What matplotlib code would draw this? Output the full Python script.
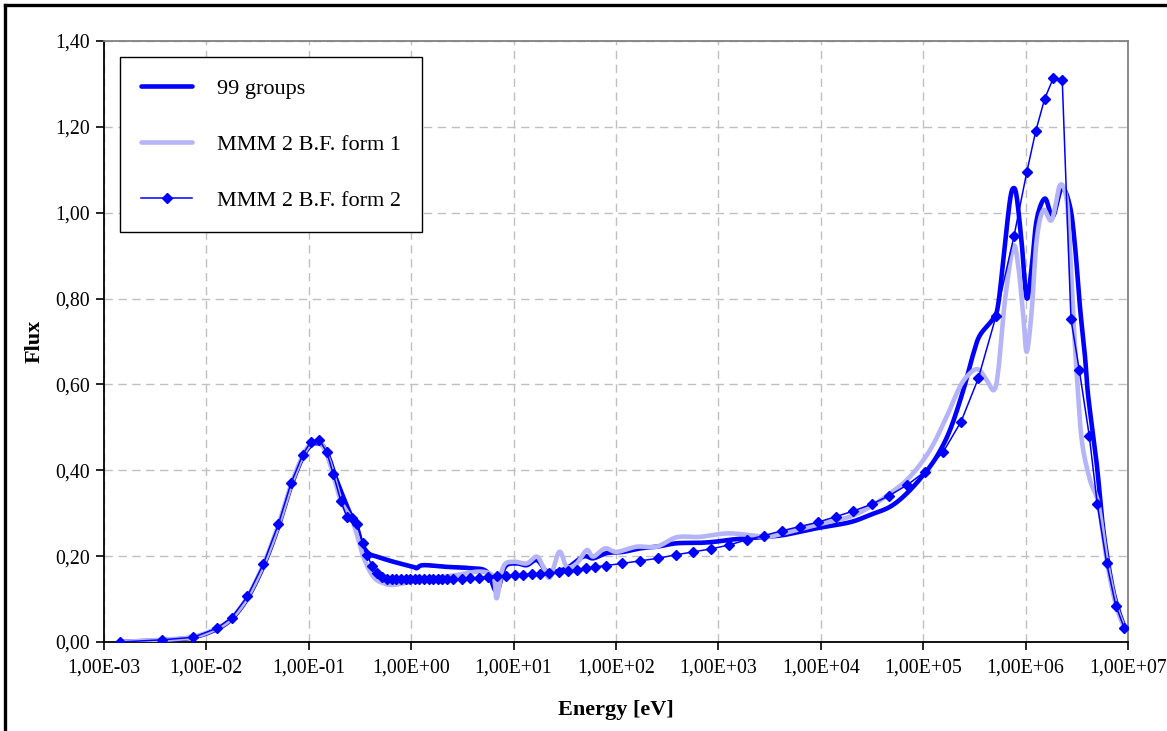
import numpy as np
import matplotlib
matplotlib.use('Agg')
import matplotlib.pyplot as plt
from matplotlib.ticker import FuncFormatter, FixedLocator

# ===== dados (log10 da energia em eV, fluxo) =====
log_e_99 = [-2.844, -2.434, -2.128, -1.899, -1.753, -1.601, -1.444, -1.298, -1.174, -1.060,
            -0.980, -0.920, -0.860, -0.800, -0.728, -0.598, -0.532, -0.483, -0.419, -0.337,
            -0.175, 0.020, 0.054, 0.118, 0.347, 0.574, 0.737, 0.835, 0.916, 1.030,
            1.128, 1.226, 1.307, 1.355, 1.519, 1.681, 1.778, 1.909, 2.071, 2.234,
            2.397, 2.593, 2.820, 2.983, 3.146, 3.309, 3.472, 3.634, 3.797, 3.960,
            4.285, 4.480, 4.676, 4.839, 5.001, 5.132, 5.262, 5.392, 5.490, 5.555,
            5.685, 5.734, 5.799, 5.848, 5.880, 5.913, 5.962, 6.011, 6.060, 6.108,
            6.189, 6.265, 6.353, 6.434, 6.483, 6.531, 6.580, 6.612, 6.694, 6.759,
            6.841, 6.906, 6.971]
flux_99 = [0.000, 0.004, 0.011, 0.030, 0.054, 0.101, 0.176, 0.268, 0.362, 0.430,
           0.458, 0.463, 0.456, 0.428, 0.377, 0.300, 0.269, 0.230, 0.207, 0.199,
           0.187, 0.175, 0.172, 0.179, 0.175, 0.172, 0.164, 0.118, 0.175, 0.183,
           0.179, 0.191, 0.168, 0.162, 0.172, 0.199, 0.195, 0.207, 0.210, 0.218,
           0.222, 0.230, 0.231, 0.234, 0.239, 0.242, 0.245, 0.249, 0.257, 0.265,
           0.279, 0.296, 0.315, 0.346, 0.389, 0.432, 0.494, 0.587, 0.672, 0.715,
           0.754, 0.789, 0.929, 1.030, 1.057, 1.037, 0.929, 0.801, 0.874, 0.983,
           1.033, 0.991, 1.057, 1.014, 0.921, 0.780, 0.665, 0.571, 0.416, 0.261,
           0.137, 0.075, 0.032]

log_e_f1 = [-2.844, -2.434, -2.128, -1.899, -1.753, -1.601, -1.444, -1.298, -1.174, -1.060,
            -0.980, -0.920, -0.860, -0.800, -0.740, -0.680, -0.565, -0.468, -0.370, -0.272,
            -0.175, 0.020, 0.216, 0.444, 0.672, 0.802, 0.835, 0.899, 0.997, 1.128,
            1.226, 1.290, 1.355, 1.446, 1.519, 1.616, 1.714, 1.778, 1.893, 2.007,
            2.202, 2.397, 2.593, 2.820, 3.081, 3.309, 3.472, 3.634, 3.960, 4.285,
            4.480, 4.676, 4.871, 5.066, 5.229, 5.359, 5.457, 5.538, 5.620, 5.691,
            5.734, 5.799, 5.880, 5.929, 5.978, 6.011, 6.060, 6.108, 6.173, 6.255,
            6.336, 6.401, 6.434, 6.466, 6.499, 6.548, 6.629, 6.710, 6.792, 6.880,
            6.964]
flux_f1 = [0.000, 0.005, 0.012, 0.032, 0.056, 0.104, 0.180, 0.272, 0.366, 0.434,
           0.462, 0.466, 0.455, 0.420, 0.372, 0.325, 0.276, 0.199, 0.152, 0.137,
           0.133, 0.141, 0.148, 0.156, 0.164, 0.152, 0.102, 0.175, 0.187, 0.183,
           0.199, 0.175, 0.150, 0.210, 0.175, 0.183, 0.214, 0.199, 0.218, 0.210,
           0.222, 0.222, 0.244, 0.245, 0.253, 0.249, 0.245, 0.253, 0.273, 0.292,
           0.315, 0.346, 0.385, 0.447, 0.525, 0.595, 0.626, 0.635, 0.610, 0.587,
           0.634, 0.797, 0.921, 0.874, 0.758, 0.676, 0.773, 0.936, 1.006, 0.983,
           1.064, 1.030, 0.913, 0.758, 0.626, 0.471, 0.377, 0.323, 0.190, 0.088,
           0.032]

log_e_f2 = [-2.844, -2.434, -2.128, -1.899, -1.753, -1.601, -1.444, -1.298, -1.174, -1.060,
            -0.979, -0.897, -0.825, -0.761, -0.688, -0.630, -0.581, -0.526, -0.474, -0.429,
            -0.386, -0.337, -0.288, -0.239, -0.190, -0.145, -0.100, -0.055, -0.010, 0.035,
            0.080, 0.125, 0.170, 0.215, 0.260, 0.305, 0.350, 0.411, 0.493, 0.574,
            0.665, 0.753, 0.841, 0.926, 1.014, 1.095, 1.177, 1.258, 1.349, 1.446,
            1.534, 1.616, 1.707, 1.795, 1.899, 2.061, 2.234, 2.410, 2.583, 2.755,
            2.931, 3.104, 3.276, 3.448, 3.618, 3.797, 3.970, 4.146, 4.317, 4.497,
            4.669, 4.845, 5.018, 5.196, 5.369, 5.538, 5.711, 5.887, 6.011, 6.099,
            6.187, 6.270, 6.358, 6.443, 6.524, 6.622, 6.700, 6.792, 6.880, 6.964]
flux_f2 = [0.000, 0.005, 0.011, 0.032, 0.057, 0.106, 0.182, 0.274, 0.370, 0.436,
           0.467, 0.470, 0.443, 0.391, 0.329, 0.292, 0.290, 0.274, 0.231, 0.203,
           0.178, 0.161, 0.152, 0.146, 0.146, 0.146, 0.146, 0.146, 0.146, 0.146,
           0.146, 0.147, 0.147, 0.147, 0.147, 0.147, 0.147, 0.147, 0.147, 0.148,
           0.150, 0.152, 0.154, 0.154, 0.155, 0.157, 0.158, 0.159, 0.161, 0.163,
           0.165, 0.168, 0.172, 0.175, 0.178, 0.183, 0.189, 0.195, 0.203, 0.210,
           0.217, 0.226, 0.238, 0.248, 0.259, 0.269, 0.279, 0.292, 0.305, 0.321,
           0.341, 0.366, 0.397, 0.443, 0.513, 0.614, 0.759, 0.946, 1.094, 1.190,
           1.266, 1.313, 1.308, 0.752, 0.634, 0.480, 0.321, 0.183, 0.085, 0.032]

labels = ['99 groups', 'MMM 2 B.F. form 1', 'MMM 2 B.F. form 2']
x_ticks = [1e-3, 1e-2, 1e-1, 1e0, 1e1, 1e2, 1e3, 1e4, 1e5, 1e6, 1e7]
y_ticks = [0.0, 0.2, 0.4, 0.6, 0.8, 1.0, 1.2, 1.4]


def suaviza(lx, y, n=12):
    """Curva suavizada estilo Excel (Catmull-Rom -> Bezier) em log(x)."""
    p = np.column_stack([lx, y]).astype(float)
    p = np.vstack([p[0], p, p[-1]])
    t = np.linspace(0, 1, n, endpoint=False)
    out = []
    for i in range(1, len(p) - 2):
        p0, p1, p2, p3 = p[i - 1], p[i], p[i + 1], p[i + 2]
        c1 = p1 + (p2 - p0) / 6.0
        c2 = p2 - (p3 - p1) / 6.0
        tt = t[:, None]
        seg = ((1 - tt) ** 3) * p1 + 3 * ((1 - tt) ** 2) * tt * c1 \
            + 3 * (1 - tt) * tt ** 2 * c2 + tt ** 3 * p2
        out.append(seg)
    out.append(p[-2][None, :])
    out = np.vstack(out)
    return 10.0 ** out[:, 0], out[:, 1]


plt.rcParams['font.family'] = ['Liberation Serif', 'DejaVu Serif']

fig = plt.figure(figsize=(11.67, 7.31), dpi=100)
ax = fig.add_axes([104 / 1167, 89 / 731, 1024 / 1167, 601 / 731])

x99, y99 = suaviza(log_e_99, flux_99)
xf1, yf1 = suaviza(log_e_f1, flux_f1)
ef2 = 10.0 ** np.array(log_e_f2)

ax.plot(x99, y99, color='#0000ff', lw=3.3, label=labels[0], zorder=3,
        solid_joinstyle='round', solid_capstyle='round')
ax.plot(xf1, yf1, color='#b4b4f6', lw=3.3, label=labels[1], zorder=4,
        solid_joinstyle='round', solid_capstyle='round')
ax.plot(ef2, flux_f2, color='#0000ff', lw=1.1, marker='D', ms=5.5, mec='#0000ff',
        mfc='#0000ff', label=labels[2], zorder=5)

ax.set_xscale('log')
ax.set_xlim(1e-3, 1e7)
ax.set_ylim(0, 1.4)
ax.xaxis.set_major_locator(FixedLocator(x_ticks))
ax.xaxis.set_minor_locator(FixedLocator([]))
ax.set_yticks(y_ticks)


def fmt_x(v, pos):
    return ('%.2E' % v).replace('.', ',')


ax.xaxis.set_major_formatter(FuncFormatter(fmt_x))
ax.yaxis.set_major_formatter(FuncFormatter(lambda v, p: ('%.2f' % v).replace('.', ',')))

ax.tick_params(axis='both', direction='out', length=6, width=1.2, labelsize=14.3,
               colors='black', pad=4)
ax.tick_params(axis='x', pad=6)

ax.grid(True, color='#c0c0c0', linestyle=(0, (6, 4)), linewidth=1.0)
ax.set_axisbelow(True)

for side in ['left', 'bottom']:
    ax.spines[side].set_color('black')
    ax.spines[side].set_linewidth(1.3)
for side in ['right', 'top']:
    ax.spines[side].set_color('#808080')
    ax.spines[side].set_linewidth(1.3)

ax.set_xlabel('Energy [eV]', fontsize=16, fontweight='bold', labelpad=16)
ax.set_ylabel('Flux', fontsize=16, fontweight='bold', labelpad=8)

leg = ax.legend(loc='upper left', bbox_to_anchor=(16 / 1024, 585 / 601),
                borderaxespad=0, fontsize=16, frameon=True, fancybox=False,
                edgecolor='black', framealpha=1, handlelength=2.3, handletextpad=1.1,
                labelspacing=1.6, borderpad=0.95)
leg.get_frame().set_linewidth(1.0)

# moldura da figura
fig.add_artist(plt.Line2D([4.5 / 1167, 4.5 / 1167], [0, 1 - 4.5 / 731],
                          transform=fig.transFigure, color='black', lw=2.4))
fig.add_artist(plt.Line2D([4.5 / 1167, 1], [1 - 4.5 / 731, 1 - 4.5 / 731],
                          transform=fig.transFigure, color='black', lw=2.4))

plt.savefig('out.png', dpi=100)
